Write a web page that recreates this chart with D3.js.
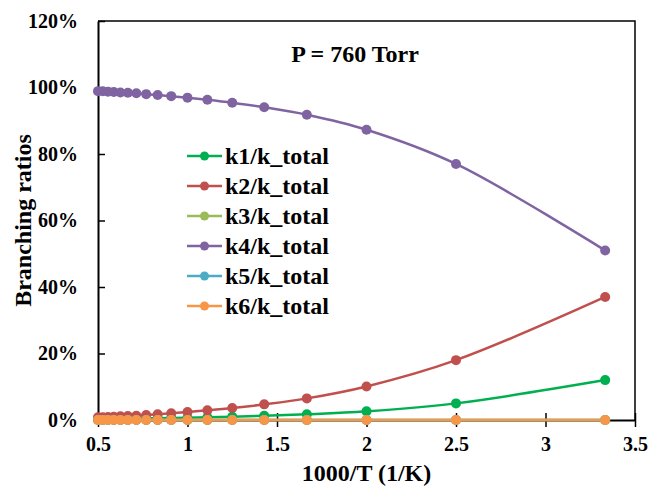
<!DOCTYPE html>
<html>
<head>
<meta charset="utf-8">
<script src="https://cdn.jsdelivr.net/npm/d3@7"></script>
<style>
body { margin: 0; background: #fff; }
text { font-family: "Liberation Serif", "Times New Roman", serif; font-weight: bold; fill: #000; }
</style>
</head>
<body>
<svg id="chart"></svg>
<script>
var width = 651;
var height = 488;

// 1000/T for T = 2000 ... 300 K
var temps = [2000, 1900, 1800, 1700, 1600, 1500, 1400, 1300, 1200, 1100, 1000, 900, 800, 700, 600, 500, 400, 300];
var k1 = [0.3, 0.3, 0.35, 0.35, 0.4, 0.4, 0.45, 0.5, 0.55, 0.6, 0.65, 0.8, 1.0, 1.25, 1.7, 2.6, 5.0, 12.0];
var k2 = [0.8, 0.85, 0.9, 1.0, 1.1, 1.2, 1.3, 1.5, 1.7, 2.0, 2.4, 2.9, 3.6, 4.7, 6.5, 10.1, 18.0, 37.0];
var k3 = [0, 0, 0, 0, 0, 0, 0, 0, 0, 0, 0, 0, 0, 0, 0, 0, 0, 0];
var k4 = [98.9, 98.85, 98.75, 98.65, 98.5, 98.4, 98.25, 98.0, 97.75, 97.4, 96.95, 96.3, 95.4, 94.05, 91.8, 87.3, 77.0, 51.0];
var k5 = [0, 0, 0, 0, 0, 0, 0, 0, 0, 0, 0, 0, 0, 0, 0, 0, 0, 0];
var k6 = [0, 0, 0, 0, 0, 0, 0, 0, 0, 0, 0, 0, 0, 0, 0, 0, 0, 0];

var seriesNames = ["k1/k_total", "k2/k_total", "k3/k_total", "k4/k_total", "k5/k_total", "k6/k_total"];
var seriesValues = [k1, k2, k3, k4, k5, k6];
var colors = ["#00b050", "#c0504d", "#9bbb59", "#8064a2", "#4bacc6", "#f79646"];
var xTicks = [0.5, 1, 1.5, 2, 2.5, 3, 3.5];
var yTicks = [0, 20, 40, 60, 80, 100, 120];

var plotLeft = 98, plotRight = 635, plotTop = 21, plotBottom = 420;

var x = d3.scaleLinear().domain([0.5, 3.5]).range([plotLeft, plotRight]);
var y = d3.scaleLinear().domain([0, 120]).range([plotBottom, plotTop]);

var svg = d3.select("#chart")
.attr("width", width)
.attr("height", height);

// frame (top and right)
svg.append("path")
.attr("d", "M" + plotLeft + "," + plotTop + "H" + plotRight + "V" + plotBottom)
.attr("fill", "none")
.attr("stroke", "#000")
.attr("stroke-width", 1.5);

var xAxis = svg.append("g")
.attr("transform", "translate(0," + plotBottom + ")")
.call(d3.axisBottom(x).tickValues(xTicks).tickSizeInner(7).tickSizeOuter(0).tickFormat(d3.format("")));
xAxis.select(".domain").attr("stroke-width", 2);
xAxis.selectAll(".tick line").attr("y1", -7).attr("stroke-width", 1.5);
xAxis.selectAll(".tick text")
.attr("y", 25)
.attr("dy", "0.32em")
.style("font-size", "20px")
.style("font-family", "'Liberation Serif', serif");

var yAxis = svg.append("g")
.attr("transform", "translate(" + plotLeft + ",0)")
.call(d3.axisLeft(y).tickValues(yTicks).tickSizeInner(7).tickSizeOuter(0).tickFormat(function (d) { return d + "%"; }));
yAxis.select(".domain").attr("stroke-width", 2);
yAxis.selectAll(".tick line").attr("x2", 7).attr("stroke-width", 1.5);
yAxis.selectAll(".tick text")
.attr("x", -20)
.style("font-size", "20px")
.style("font-family", "'Liberation Serif', serif");

// axis titles
svg.append("text")
.attr("x", (plotLeft + plotRight) / 2)
.attr("y", 481)
.attr("text-anchor", "middle")
.style("font-size", "24px")
.text("1000/T (1/K)");

svg.append("text")
.attr("transform", "translate(31," + ((plotTop + plotBottom) / 2) + ") rotate(-90)")
.attr("text-anchor", "middle")
.style("font-size", "24px")
.text("Branching ratios");

svg.append("text")
.attr("x", 355)
.attr("y", 62)
.attr("text-anchor", "middle")
.style("font-size", "24px")
.text("P = 760 Torr");

var line = d3.line()
.x(function (d) { return x(d.x); })
.y(function (d) { return y(d.y); })
.curve(d3.curveCatmullRom);

seriesValues.forEach(function (vals, i) {
	var pts = temps.map(function (t, j) { return {x: 1000 / t, y: vals[j]}; });
	var g = svg.append("g");
	g.append("path")
	.attr("d", line(pts))
	.attr("fill", "none")
	.attr("stroke", colors[i])
	.attr("stroke-width", 2.5);
	g.selectAll("circle")
	.data(pts)
	.enter()
	.append("circle")
	.attr("cx", function (d) { return x(d.x); })
	.attr("cy", function (d) { return y(d.y); })
	.attr("r", 5)
	.attr("fill", colors[i]);
});

// legend
var legend = svg.append("g");
seriesNames.forEach(function (name, i) {
	var ly = 156 + i * 30;
	legend.append("line")
	.attr("x1", 187).attr("x2", 222)
	.attr("y1", ly).attr("y2", ly)
	.attr("stroke", colors[i])
	.attr("stroke-width", 2.5);
	legend.append("circle")
	.attr("cx", 204.5).attr("cy", ly).attr("r", 4.5)
	.attr("fill", colors[i]);
	legend.append("text")
	.attr("x", 225)
	.attr("y", ly)
	.attr("dy", "0.35em")
	.style("font-size", "24px")
	.text(name);
});
</script>
</body>
</html>
